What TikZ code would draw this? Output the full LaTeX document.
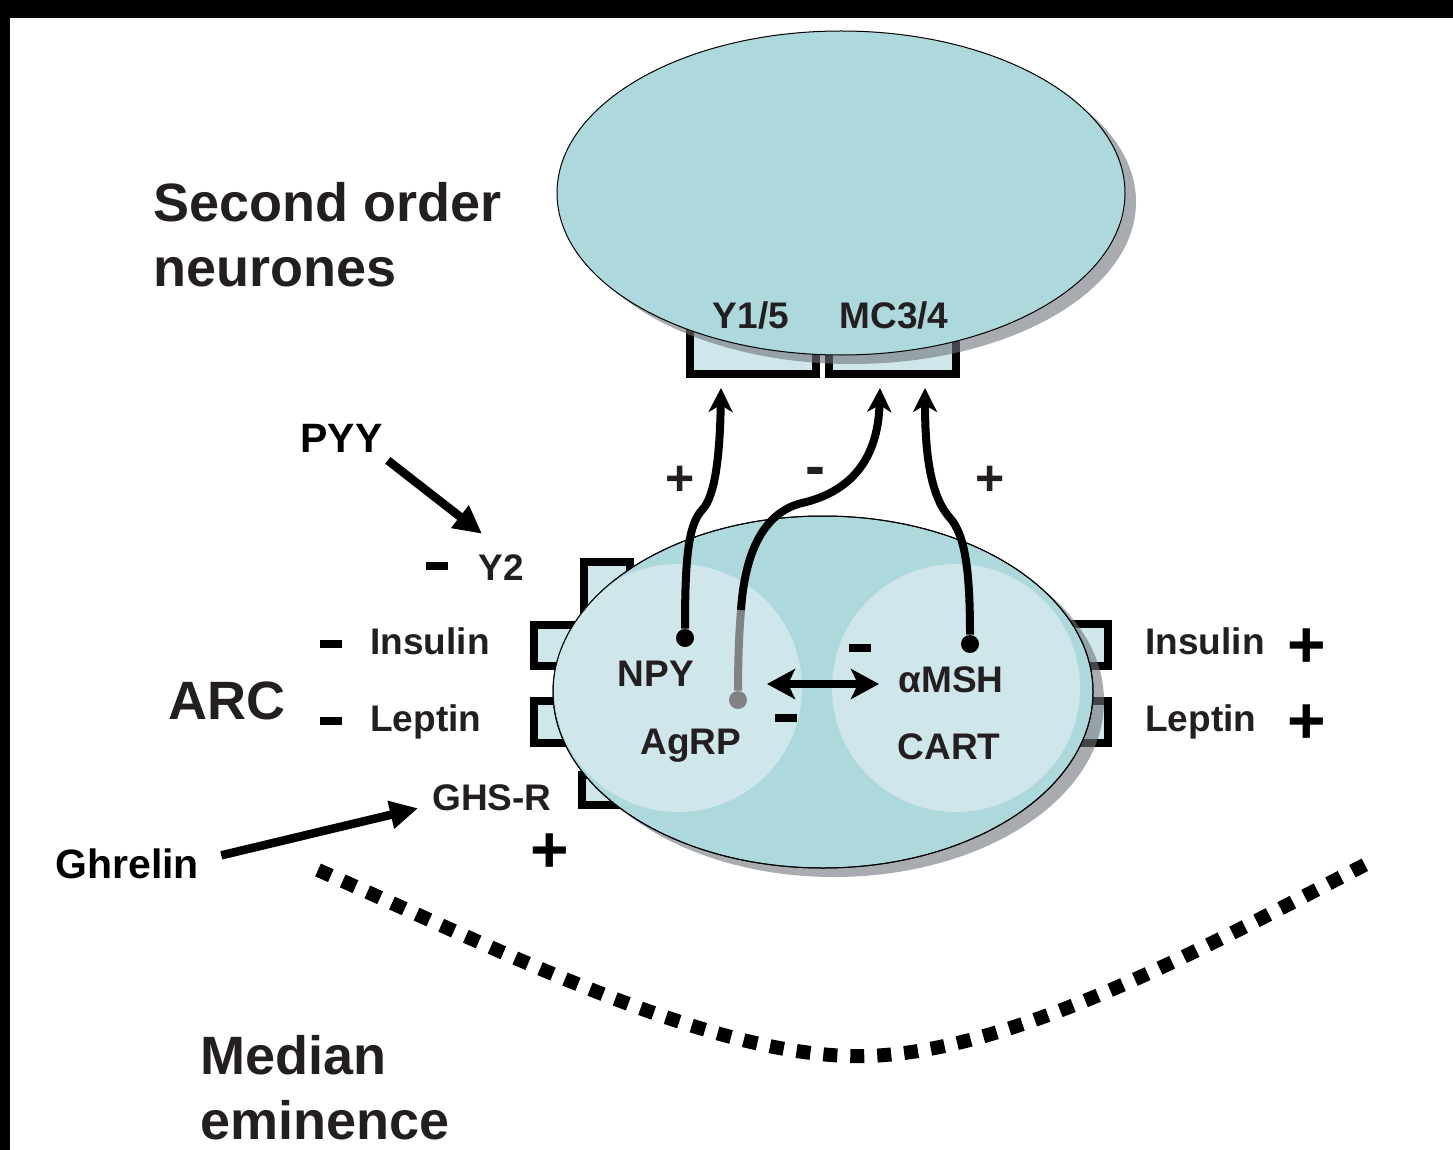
\documentclass[tikz,border=0pt]{standalone}
\usepackage{fontspec}
\setmainfont{Liberation Sans}
\usetikzlibrary{positioning,shapes.geometric,arrows.meta,shadows}

\definecolor{cellfill}{RGB}{173,217,221}
\definecolor{palefill}{RGB}{207,230,234}
\definecolor{labelink}{RGB}{35,31,32}
\definecolor{greyline}{RGB}{128,130,133}
\definecolor{shadowgrey}{RGB}{110,116,122}

\tikzset{every picture/.style={line width=0.75pt}}
\tikzset{
  cell/.style={ellipse, draw=black, line width=1pt, fill=cellfill, inner sep=0pt,
    drop shadow={shadow xshift=11pt, shadow yshift=-9pt, fill=shadowgrey, opacity=0.6}},
  rbox/.style={draw=black, line width=7.5pt, fill=palefill},
  title/.style={font=\fontsize{54}{65}\selectfont\bfseries, text=labelink, inner sep=0pt, align=left},
  lbl/.style={font=\fontsize{37}{44}\selectfont\bfseries, text=labelink, inner sep=0pt},
  hormone/.style={font=\fontsize{41}{49}\selectfont\bfseries, text=black, inner sep=0pt},
  plus/.style={font=\fontsize{66}{66}\selectfont\bfseries, inner sep=0pt},
  smallsign/.style={font=\fontsize{50}{50}\selectfont\bfseries, text=labelink, inner sep=0pt},
  minus/.style={fill=black, minimum width=22pt, minimum height=8pt, inner sep=0pt},
  dot/.style={circle, fill=black, minimum size=18pt, inner sep=0pt},
  link/.style={line width=8pt, -{Stealth[length=24pt,width=24pt,inset=7pt]}},
  hormarrow/.style={line width=8.5pt, -{Triangle[length=28pt,width=27pt]}},
}

\begin{document}
\begin{tikzpicture}[x=1pt,y=-1pt]
\useasboundingbox (0,0) rectangle (1453,1150);
\fill[white] (0,0) rectangle (1453,1150);
%Frame edges
\fill[black] (0,0) rectangle (1453,18);
\fill[black] (0,0) rectangle (10,1150);

%Shape: Rectangle (receptors, second order neurones)
\draw[rbox] (690,300) rectangle (816,374);
\draw[rbox] (829,300) rectangle (956,374);
%Shape: Rectangle (receptors, ARC)
\draw[rbox] (584,562) rectangle (630,640);
\draw[rbox] (534,625) rectangle (600,666);
\draw[rbox] (534,701) rectangle (600,743);
\draw[rbox] (582,775) rectangle (640,805);
\draw[rbox] (1050,624) rectangle (1108,666);
\draw[rbox] (1050,701) rectangle (1108,743);

%Shape: Ellipse
\node[cell, minimum width=568pt, minimum height=324pt] (second) at (841,193) {};
%Shape: Ellipse
\node[cell, minimum width=540pt, minimum height=352pt] (arc) at (823,692) {};
%Shape: Circle (two neurone groups)
\begin{scope}
\clip (arc.center) ellipse [x radius=270, y radius=176];
\fill[palefill] (678,688) circle [radius=124];
\fill[palefill] (956,688) circle [radius=124];
\end{scope}
\draw[line width=1pt] (arc.center) ellipse [x radius=270, y radius=176];

% Text Node
\node[title, anchor=north west] (sectitle) at (153,182) {Second order\\neurones};
\node[title, anchor=base west] (arclbl) at (168,719) {ARC};
\node[title, anchor=north west] (medtitle) at (200,1035) {Median\\eminence};
% Text Node
\node[lbl, anchor=base] (y15) at (751,328) {Y1/5};
\node[lbl, anchor=base] (mc34) at (894,328) {MC3/4};
\node[lbl, anchor=base west] (y2) at (478,580) {Y2};
\node[lbl, anchor=base west] (insL) at (370,654) {Insulin};
\node[lbl, anchor=base west] (lepL) at (370,731) {Leptin};
\node[lbl, anchor=base west] (ghsr) at (432,810) {GHS-R};
\node[lbl, anchor=base west] (insR) at (1145,654) {Insulin};
\node[lbl, anchor=base west] (lepR) at (1145,731) {Leptin};
\node[lbl, anchor=base] (npy) at (656,686) {NPY};
\node[lbl, anchor=base] (agrp) at (691,754) {AgRP};
\node[lbl, anchor=base] (amsh) at (951,692) {αMSH};
\node[lbl, anchor=base] (cart) at (949,759) {CART};
% Text Node
\node[hormone, anchor=base west] (pyy) at (300,452) {PYY};
\node[hormone, anchor=base west] (ghrelin) at (55,878) {Ghrelin};

%Shape: Circle (release points)
\node[dot] (npydot) at (685,638) {};
\node[dot, fill=greyline] (agrpdot) at (738,700) {};
\node[dot] (amshdot) at (970,644) {};
\coordinate (y15tip) at (721,388);
\coordinate (mc34tipA) at (880,388);
\coordinate (mc34tipB) at (925,388);
\coordinate (agrpfade) at (741,610);

%Curve Lines
\draw[link] (npydot) .. controls (685,560) and (688,525) .. (702,510) .. controls (716,496) and (720,450) .. (y15tip);
%Curve Lines
\draw[line width=8pt, greyline] (agrpdot) .. controls (738,660) and (739,635) .. (agrpfade);
\draw[link] (agrpfade) .. controls (745,550) and (765,512) .. (802,503) .. controls (850,492) and (878,460) .. (mc34tipA);
%Curve Lines
\draw[link] (amshdot) .. controls (970,570) and (965,535) .. (950,518) .. controls (932,498) and (925,460) .. (mc34tipB);

%Straight Lines
\coordinate (dblL) at (767,684);
\coordinate (dblR) at (879,684);
\draw[line width=7.5pt, {Stealth[length=28pt,width=30pt,inset=7pt]}-{Stealth[length=28pt,width=30pt,inset=7pt]}] (dblL) -- (dblR);
%Straight Lines
\draw[hormarrow] ([shift={(5,8)}]pyy.south east) -- ([shift={(4,-20)}]y2.north west);
\draw[hormarrow] ([shift={(22,-8)}]ghrelin.east) -- ([shift={(-14,11)}]ghsr.west);

% Text Node
\node[minus] (m1) at (437,566) {};
\node[minus] (m2) at (331,644) {};
\node[minus] (m3) at (331,721) {};
\node[minus] (m4) at (860,648) {};
\node[minus] (m5) at (786,718) {};
\node[smallsign, font=\fontsize{60}{60}\selectfont\bfseries] (m6) at (815,477) {-};
\node[plus] (p1) at (1307,648) {+};
\node[plus] (p2) at (1307,724) {+};
\node[plus] (p3) at (550,853) {+};
\node[smallsign] (p4) at (680,481) {+};
\node[smallsign] (p5) at (990,481) {+};

%Curve Lines
\draw[line width=14pt, dash pattern=on 14pt off 13pt] (318,870) .. controls (500,950) and (700,1052) .. (850,1056) .. controls (1000,1060) and (1200,950) .. (1374,860);

\end{tikzpicture}
\end{document}
